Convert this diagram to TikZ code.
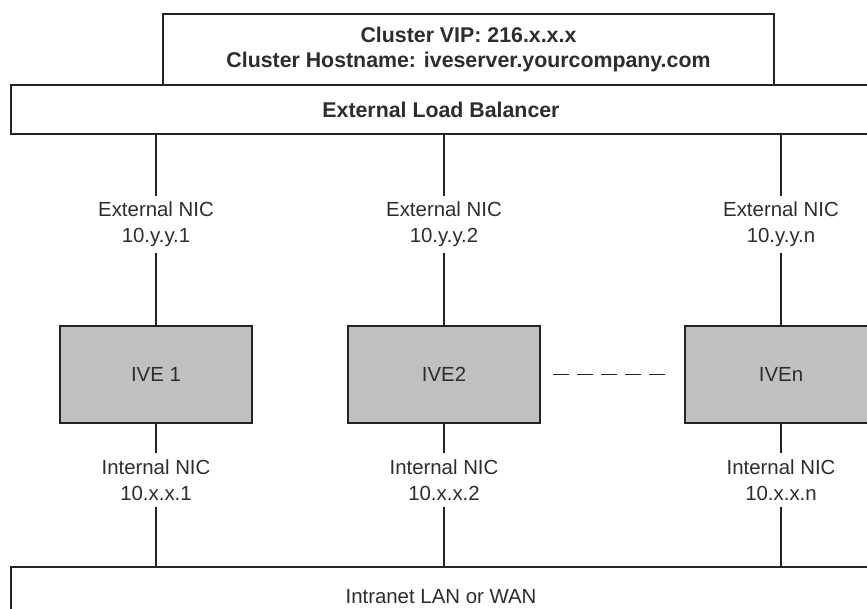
\documentclass[tikz,border=0pt]{standalone}
\usepackage{fontspec}
\setmainfont{Liberation Sans}
\usetikzlibrary{positioning}

\definecolor{linegray}{RGB}{35,35,35}
\definecolor{textgray}{RGB}{45,45,45}
\definecolor{ivegray}{RGB}{192,192,192}

\begin{document}
\begin{tikzpicture}[
    x=0.75pt, y=-0.75pt,
    every node/.style={font=\fontsize{15.3}{19.5}\selectfont, text=textgray},
    bar/.style={rectangle, draw=linegray, line width=1.2pt, fill=white, minimum width=645pt, inner sep=0pt},
    vip/.style={rectangle, draw=linegray, line width=1.2pt, fill=white, minimum width=458.25pt, minimum height=53.25pt, align=center, font=\fontsize{16}{19}\selectfont\bfseries},
    ive/.style={rectangle, draw=linegray, line width=1.2pt, fill=ivegray, minimum width=144pt, minimum height=72.75pt},
    nic/.style={align=center, inner xsep=2pt, inner ysep=4.5pt},
    link/.style={draw=linegray, line width=1.2pt},
    gap/.style={dash pattern=on 12.4pt off 5.6pt, shorten <=9pt, shorten >=9pt}
]
\useasboundingbox (0,0) rectangle (867,609);

% Top boxes
\node[vip] (vip) at (468.5,49.5) {Cluster VIP: 216.x.x.x\\Cluster Hostname: iveserver.yourcompany.com};
\node[bar, minimum height=36.75pt, font=\fontsize{16}{19}\selectfont\bfseries] (elb) at (441,109.5) {External Load Balancer};

% IVE boxes
\node[ive] (ive1) at (156,374.5) {IVE 1};
\node[ive] (ive2) at (444,374.5) {IVE2};
\node[ive] (iven) at (781,374.5) {IVEn};

% NIC labels
\node[nic, above=54pt of ive1] (ext1) {External NIC\\10.y.y.1};
\node[nic, above=54pt of ive2] (ext2) {External NIC\\10.y.y.2};
\node[nic, above=54pt of iven] (extn) {External NIC\\10.y.y.n};
\node[nic, below=22pt of ive1] (int1) {Internal NIC\\10.x.x.1};
\node[nic, below=22pt of ive2] (int2) {Internal NIC\\10.x.x.2};
\node[nic, below=22pt of iven] (intn) {Internal NIC\\10.x.x.n};

% Bottom network
\node[bar, minimum height=45pt] (lan) at (441,597) {Intranet LAN or WAN};

% Links
\draw[link] (ext1.north |- elb.south) -- (ext1);
\draw[link] (ext2.north |- elb.south) -- (ext2);
\draw[link] (extn.north |- elb.south) -- (extn);
\draw[link] (ext1) -- (ive1);
\draw[link] (ext2) -- (ive2);
\draw[link] (extn) -- (iven);
\draw[link] (ive1) -- (int1);
\draw[link] (ive2) -- (int2);
\draw[link] (iven) -- (intn);
\draw[link] (int1) -- (int1.south |- lan.north);
\draw[link] (int2) -- (int2.south |- lan.north);
\draw[link] (intn) -- (intn.south |- lan.north);
\draw[link, gap] (ive2) -- (iven);

\end{tikzpicture}
\end{document}
